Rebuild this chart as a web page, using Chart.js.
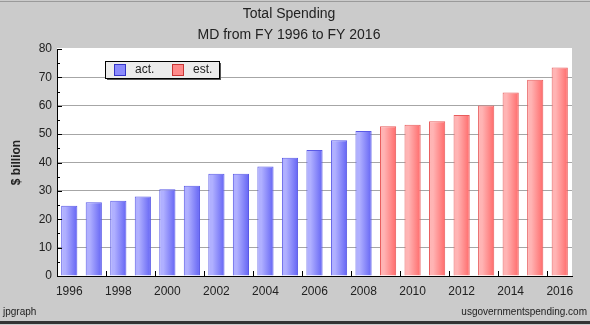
<!DOCTYPE html>
<html lang="en">
<head>
<meta charset="UTF-8">
<title>Total Spending - MD</title>
<script src="https://cdn.jsdelivr.net/npm/chart.js"></script>
<style>
  html, body { margin: 0; padding: 0; background: #cbcbcb; }
  #wrap { position: relative; width: 590px; height: 325px; background: #cbcbcb; }
  #wrap canvas { position: absolute; left: 0; top: 0; }
  .line-top { position: absolute; left: 0; top: 1px; width: 590px; height: 1px; background: #9a9a9a; }
  .line-bottom { position: absolute; left: 0; top: 321px; width: 590px; height: 3px; background: #333; }
  .foot { position: absolute; top: 306px; font: 10px "Liberation Sans", Arial, sans-serif; color: #222; }
</style>
</head>
<body>
<div id="wrap">
  <canvas id="spendChart" width="590" height="325"></canvas>
  <div class="line-top"></div>
  <div class="line-bottom"></div>
  <div class="foot" style="left:3px">jpgraph</div>
  <div class="foot" style="right:3px">usgovernmentspending.com</div>
</div>

<script>
// datos ($ billion)
const years = ['1996', '1997', '1998', '1999', '2000', '2001', '2002', '2003', '2004', '2005', '2006',
               '2007', '2008', '2009', '2010', '2011', '2012', '2013', '2014', '2015', '2016'];
const actual = [24.8, 26.0, 26.5, 28.0, 30.6, 31.8, 36.0, 36.0, 38.6, 41.7, 44.4, 47.8, 51.1,
                null, null, null, null, null, null, null, null];
const estimated = [null, null, null, null, null, null, null, null, null, null, null, null, null,
                   52.8, 53.3, 54.5, 56.7, 60.1, 64.7, 69.2, 73.5];
const yMin = 0, yMax = 80, yStep = 10;

const barShare = 0.66;
const txt = '#222';
const font = '"Liberation Sans", Arial, sans-serif';

// degradado horizontal en cada barra (claro a la izquierda)
function barFill(light, dark) {
    return function (ctx) {
        if (ctx.type !== 'data') return dark;
        const chart = ctx.chart;
        const x = chart.scales.x;
        if (!x || !chart.chartArea) return dark;
        const cx = x.getPixelForValue(ctx.dataIndex);
        const half = x.width / years.length * barShare / 2;
        const g = chart.ctx.createLinearGradient(cx - half, 0, cx + half, 0);
        g.addColorStop(0, light);
        g.addColorStop(0.25, light);
        g.addColorStop(1, dark);
        return g;
    };
}

// fondo blanco del area del grafico
const plotBg = {
    id: 'plotBg',
    beforeDraw(chart) {
        const a = chart.chartArea, c = chart.ctx;
        c.save();
        c.fillStyle = '#ffffff';
        c.fillRect(a.left, a.top - 1, a.right - a.left, a.bottom - a.top + 1);
        c.restore();
    }
};

// marcas hacia dentro (estilo jpgraph): menores en y, entre barras en x
const innerTicks = {
    id: 'innerTicks',
    afterDraw(chart) {
        const c = chart.ctx, a = chart.chartArea;
        const xs = chart.scales.x, ys = chart.scales.y;
        c.save();
        c.strokeStyle = '#000';
        c.lineWidth = 1;
        c.beginPath();
        for (let v = yMin; v <= yMax; v += yStep / 2) {
            const py = Math.round(ys.getPixelForValue(v)) + 0.5;
            const len = (v % yStep === 0) ? 5 : 3;
            c.moveTo(a.left, py);
            c.lineTo(a.left + len, py);
        }
        for (let i = 1; i < years.length; i += 2) {
            const px = Math.round((xs.getPixelForValue(i) + xs.getPixelForValue(i + 1)) / 2) + 0.5;
            c.moveTo(px, a.bottom);
            c.lineTo(px, a.bottom - 5);
        }
        c.stroke();
        c.restore();
    }
};

// leyenda en caja con sombra, como la de jpgraph
const boxLegend = {
    id: 'boxLegend',
    afterDraw(chart) {
        const c = chart.ctx;
        const x = 105, y = 61, w = 114, h = 17;
        c.save();
        c.fillStyle = '#555';
        c.fillRect(x + 2, y + 2, w, h);
        c.fillStyle = '#ececec';
        c.fillRect(x, y, w, h);
        c.strokeStyle = '#000';
        c.lineWidth = 1;
        c.strokeRect(x + 0.5, y + 0.5, w, h);
        c.font = '12px ' + font;
        c.textBaseline = 'middle';
        const items = [
            { label: chart.data.datasets[0].label, fill: '#8a8afc', edge: '#3535c8', dx: 9 },
            { label: chart.data.datasets[1].label, fill: '#ff8a8a', edge: '#c83535', dx: 67 }
        ];
        items.forEach(it => {
            c.fillStyle = it.fill;
            c.fillRect(x + it.dx, y + 3, 11, 11);
            c.strokeStyle = it.edge;
            c.strokeRect(x + it.dx + 0.5, y + 3.5, 11, 11);
            c.fillStyle = txt;
            c.fillText(it.label, x + it.dx + 21, y + 9);
        });
        c.restore();
    }
};

const ctx = document.getElementById('spendChart').getContext('2d');
new Chart(ctx, {
    type: 'bar',
    data: {
        labels: years,
        datasets: [{
            label: 'act.',
            data: actual,
            backgroundColor: barFill('#b0b0ff', '#6464f4'),
            borderColor: '#5a5ae6',
            borderWidth: 1,
            borderSkipped: 'bottom'
        }, {
            label: 'est.',
            data: estimated,
            backgroundColor: barFill('#ffb4b4', '#ff6a6a'),
            borderColor: '#e85c5c',
            borderWidth: 1,
            borderSkipped: 'bottom'
        }]
    },
    options: {
        responsive: false,
        animation: false,
        layout: { padding: { left: 6, right: 18, top: 0, bottom: 0 } },
        datasets: { bar: { grouped: false, barPercentage: barShare, categoryPercentage: 1 } },
        plugins: {
            legend: { display: false },
            tooltip: { enabled: false },
            title: {
                display: true,
                text: ['Total Spending', 'MD from FY 1996 to FY 2016'],
                color: txt,
                font: { family: font, size: 14, weight: 'normal', lineHeight: 1.5 },
                padding: { top: 4, bottom: 3 }
            }
        },
        scales: {
            x: {
                grid: { display: false, drawTicks: false },
                border: { color: '#000', width: 1 },
                ticks: {
                    autoSkip: false,
                    maxRotation: 0,
                    padding: 8,
                    color: txt,
                    font: { family: font, size: 12 },
                    callback: (v, i) => (i % 2 === 0 ? years[i] : '')
                },
                afterFit: s => { s.height = 49; }
            },
            y: {
                min: yMin,
                max: yMax,
                z: 1,
                grid: {
                    drawTicks: false,
                    color: c => (c.tick && c.tick.value === yMax ? 'rgba(0,0,0,0)' : '#a6a6a6')
                },
                border: { color: '#000', width: 1 },
                ticks: {
                    stepSize: yStep,
                    padding: 5,
                    color: txt,
                    font: { family: font, size: 12 }
                },
                title: {
                    display: true,
                    text: '$ billion',
                    color: txt,
                    font: { family: font, size: 12, weight: 'bold' },
                    padding: { top: 3, bottom: 0 }
                },
                afterFit: s => { s.width = 51; }
            }
        }
    },
    plugins: [plotBg, innerTicks, boxLegend]
});
</script>
</body>
</html>
